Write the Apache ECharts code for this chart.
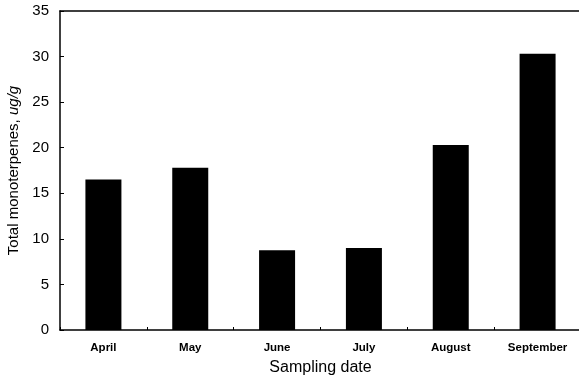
<!DOCTYPE html>
<html>
<head>
<meta charset="utf-8">
<script src="https://cdn.jsdelivr.net/npm/echarts@6/dist/echarts.min.js"></script>
<style>
  html, body { margin: 0; padding: 0; background: #fff; }
  #chart { width: 579px; height: 380px; }
</style>
</head>
<body>
<div id="chart"></div>
<script>
// Sampling months and total monoterpene content (ug/g)
const months = ['April', 'May', 'June', 'July', 'August', 'September'];
const monoterpenes = [16.5, 17.8, 8.75, 9.0, 20.3, 30.3];
const yTicks = { min: 0, max: 35, interval: 5 };

const chart = echarts.init(document.getElementById('chart'));
const font = '"Liberation Sans", Arial, sans-serif';

chart.setOption({
  animation: false,
  backgroundColor: '#fff',
  grid: { left: 60, top: 11, width: 521, height: 319, containLabel: false, outerBoundsMode: 'none' },
  xAxis: [
    {
      type: 'category',
      data: months,
      position: 'bottom',
      name: 'Sampling date',
      nameLocation: 'middle',
      nameGap: 30,
      nameTextStyle: { fontFamily: font, fontSize: 16, color: '#000' },
      axisLine: { lineStyle: { color: '#000', width: 1.5 } },
      axisTick: { show: true, inside: true, length: 3, alignWithLabel: false, lineStyle: { color: '#000' } },
      axisLabel: { fontFamily: font, fontSize: 11.5, fontWeight: 'bold', color: '#000', margin: 12 }
    },
    {
      type: 'category',
      data: months,
      position: 'top',
      axisLine: { lineStyle: { color: '#000', width: 1.5 } },
      axisTick: { show: false },
      axisLabel: { show: false }
    }
  ],
  yAxis: {
    type: 'value',
    min: yTicks.min,
    max: yTicks.max,
    interval: yTicks.interval,
    name: '{n|Total monoterpenes, }{i|ug/g}',
    nameLocation: 'middle',
    nameGap: 36,
    nameTextStyle: {
      rich: {
        n: { fontFamily: font, fontSize: 15, color: '#000' },
        i: { fontFamily: font, fontSize: 15, color: '#000', fontStyle: 'italic' }
      }
    },
    axisLine: { show: true, lineStyle: { color: '#000', width: 1.5 } },
    axisTick: { show: true, inside: true, length: 4, lineStyle: { color: '#000' } },
    axisLabel: { fontFamily: font, fontSize: 15, color: '#000', margin: 11 },
    splitLine: { show: false }
  },
  series: [
    {
      type: 'bar',
      data: monoterpenes,
      barWidth: 36,
      itemStyle: { color: '#000' }
    }
  ]
});
</script>
</body>
</html>
